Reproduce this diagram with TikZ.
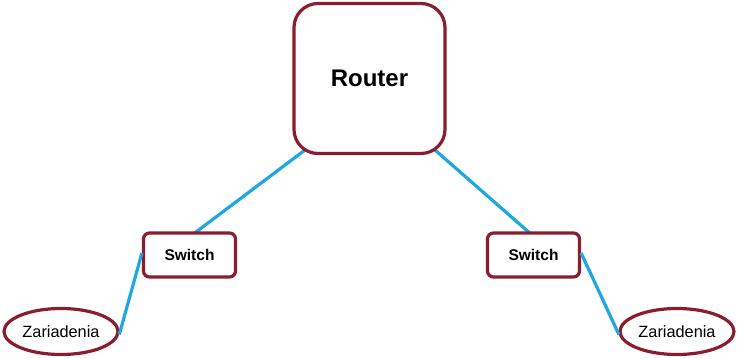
\documentclass[tikz,border=0pt]{standalone}
\usepackage{fontspec}
\setmainfont{Liberation Sans}
\usetikzlibrary{shapes.geometric}
\definecolor{boxred}{HTML}{8B1E2E}
\definecolor{linkblue}{HTML}{1EA7E1}
\begin{document}
\begin{tikzpicture}[x=1pt,y=-1pt,
  link/.style={draw=linkblue,line width=3.2pt},
  routerbox/.style={draw=boxred,line width=3.2pt,fill=white,rounded corners=24pt,
    minimum width=151pt,minimum height=150pt,inner sep=0pt,font=\fontsize{24}{28}\selectfont\bfseries},
  switchbox/.style={draw=boxred,line width=3.2pt,fill=white,rounded corners=6pt,
    minimum width=92pt,minimum height=44pt,inner sep=0pt,font=\fontsize{15.5}{18}\selectfont\bfseries},
  devicebox/.style={ellipse,draw=boxred,line width=3.2pt,fill=white,
    minimum width=114pt,minimum height=46pt,inner sep=0pt,font=\fontsize{16.3}{19}\selectfont}]
\useasboundingbox (0,0) rectangle (740,359);
\coordinate (rl) at (305,150);
\coordinate (rr) at (435,150);
\coordinate (sla) at (192,235);
\coordinate (sra) at (532,235);
\draw[link] (rl) -- (sla);
\draw[link] (rr) -- (sra);
\node[routerbox] (router) at (369.5,78.5) {Router};
\node[switchbox] (swL) at (189.5,255) {Switch};
\node[switchbox] (swR) at (533.5,255) {Switch};
\node[devicebox] (devL) at (61,331.5) {Zariadenia};
\node[devicebox] (devR) at (677,331.5) {Zariadenia};
\draw[link,shorten >=-1pt] ([yshift=2pt]swL.west) -- ([yshift=-2pt]devL.east);
\draw[link,shorten >=-1pt] ([yshift=2pt]swR.east) -- ([yshift=-2pt]devR.west);
\end{tikzpicture}
\end{document}
